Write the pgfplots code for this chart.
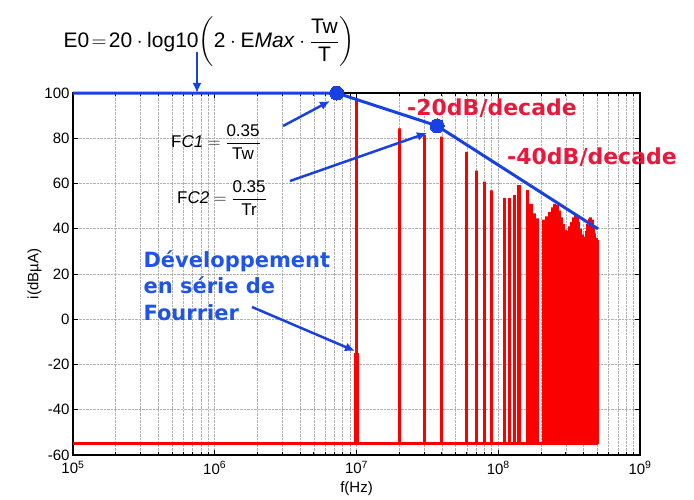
\documentclass[border=0pt]{standalone}
\usepackage{amsmath}
\usepackage{pgfplots}
\pgfplotsset{compat=1.18}
\usepackage{fontspec}
\setmainfont{Liberation Sans}
\newfontfamily\annot{DejaVu Sans}
\usetikzlibrary{arrows.meta}
\definecolor{envblue}{RGB}{25,65,225}
\definecolor{txtblue}{RGB}{30,85,230}
\definecolor{specred}{RGB}{250,0,0}
\definecolor{txtred}{RGB}{232,25,60}
\begin{document}
\begin{tikzpicture}
\useasboundingbox (-73pt,-44pt) rectangle (621pt,455pt);
\begin{axis}[
  at={(0pt,0pt)}, anchor=south west,
  width=567pt, height=362pt, scale only axis,
  xmode=log, xmin=1e5, xmax=1e9, ymin=-60, ymax=100,
  xtick={1e5,1e6,1e7,1e8,1e9},
  xticklabels={10\textsuperscript{5},10\textsuperscript{6},10\textsuperscript{7},10\textsuperscript{8},10\textsuperscript{9}},
  minor xtick={2e5,3e5,4e5,5e5,6e5,7e5,8e5,9e5,2e6,3e6,4e6,5e6,6e6,7e6,8e6,9e6,2e7,3e7,4e7,5e7,6e7,7e7,8e7,9e7,2e8,3e8,4e8,5e8,6e8,7e8,8e8,9e8},
  ytick={-60,-40,-20,0,20,40,60,80,100},
  /pgf/number format/assume math mode=true,
  tick label style={font=\fontsize{15}{18}\selectfont},
  xticklabel style={yshift=-3pt},
  xmajorgrids, xminorgrids, ymajorgrids,
  major grid style={densely dotted, gray!60, line width=0.6pt},
  minor grid style={densely dotted, gray!60, line width=0.6pt},
  tick align=inside, major tick length=5pt, minor tick length=3pt,
  tick style={black, line width=0.8pt},
  axis line style={black, line width=1.3pt},
  xlabel={f(Hz)}, ylabel={i(dB\textmu A)},
  label style={font=\fontsize{15}{18}\selectfont},
  xlabel style={yshift=-1pt},
  ylabel style={yshift=-4pt},
  clip=false,
]
% spectrum: baseline at -55 with harmonic spikes of the 10 MHz fundamental
\addplot[specred, line width=3.2pt, line join=bevel] coordinates {
(1e5,-55)
(1e7,-55) (1e7,97.5) (1e7,-55)
(2e7,-55) (2e7,84.4) (2e7,-55)
(3e7,-55) (3e7,81.4) (3e7,-55)
(4e7,-55) (4e7,80.7) (4e7,-55)
(6e7,-55) (6e7,74) (6e7,-55)
(7e7,-55) (7e7,65.7) (7e7,-55)
(8e7,-55) (8e7,60.8) (8e7,-55)
(9e7,-55) (9e7,57) (9e7,-55)
(11e7,-55) (11e7,53.7) (11e7,-55)
(12e7,-55) (12e7,53.5) (12e7,-55)
(13e7,-55) (13e7,54.9) (13e7,-55)
(14e7,-55) (14e7,59.3) (14e7,-55)
(16e7,-55) (16e7,57.1) (16e7,-55)
(17e7,-55) (17e7,51) (17e7,-55)
(18e7,-55) (18e7,46.8) (18e7,-55)
(19e7,-55) (19e7,44.6) (19e7,-55)
(21e7,-55) (21e7,44) (21e7,-55)
(22e7,-55) (22e7,45.5) (22e7,-55)
(23e7,-55) (23e7,47.5) (23e7,-55)
(24e7,-55) (24e7,49.5) (24e7,-55)
(25e7,-55) (25e7,51) (25e7,-55)
(26e7,-55) (26e7,50.5) (26e7,-55)
(27e7,-55) (27e7,48) (27e7,-55)
(28e7,-55) (28e7,45) (28e7,-55)
(29e7,-55) (29e7,42) (29e7,-55)
(30e7,-55) (30e7,39.5) (30e7,-55)
(31e7,-55) (31e7,39) (31e7,-55)
(32e7,-55) (32e7,41) (32e7,-55)
(33e7,-55) (33e7,43) (33e7,-55)
(34e7,-55) (34e7,45) (34e7,-55)
(35e7,-55) (35e7,46) (35e7,-55)
(36e7,-55) (36e7,45) (36e7,-55)
(37e7,-55) (37e7,43) (37e7,-55)
(38e7,-55) (38e7,40) (38e7,-55)
(39e7,-55) (39e7,37.5) (39e7,-55)
(40e7,-55) (40e7,36) (40e7,-55)
(41e7,-55) (41e7,36.5) (41e7,-55)
(42e7,-55) (42e7,39) (42e7,-55)
(43e7,-55) (43e7,42) (43e7,-55)
(44e7,-55) (44e7,44.5) (44e7,-55)
(45e7,-55) (45e7,45) (45e7,-55)
(46e7,-55) (46e7,44) (46e7,-55)
(47e7,-55) (47e7,41) (47e7,-55)
(48e7,-55) (48e7,38) (48e7,-55)
(49e7,-55) (49e7,36) (49e7,-55)
(50e7,-55) (50e7,35) (50e7,-55)
};
\addplot[specred, line width=4.5pt] coordinates {(1e7,-55) (1e7,-15)};
% envelope
\addplot[envblue, line width=3pt, mark=*, mark size=7pt, mark indices={2,3},
  mark options={fill=envblue, draw=envblue, line width=0pt}]
  coordinates {(1e5,100) (7.25e6,100) (3.7e7,85.5) (5.06e8,39.9)};
\end{axis}
% annotations
\node at (136pt,413pt) {\fontsize{21}{25}\selectfont $\text{E0}\!=\!\text{20}\cdot\text{log10}\biggl(\text{2}\cdot\text{E\textit{Max}}\cdot\dfrac{\text{Tw}}{\text{T}}\biggr)$};
\draw[envblue, line width=2.5pt, -{Latex[length=10pt,width=9pt]}] (124pt,403pt) -- (124pt,362pt);
\node at (143pt,313pt) {\fontsize{17}{20}\selectfont $\text{F\textit{C1}}=\dfrac{\text{0.35}}{\text{Tw}}$};
\node at (149pt,257pt) {\fontsize{17}{20}\selectfont $\text{F\textit{C2}}=\dfrac{\text{0.35}}{\text{Tr}}$};
\draw[envblue, line width=2.5pt, -{Latex[length=10pt,width=9pt]}] (210pt,329pt) -- (257pt,354pt);
\draw[envblue, line width=2.5pt, -{Latex[length=10pt,width=9pt]}] (217pt,274pt) -- (354pt,322pt);
\begin{scope}[every node/.style={anchor=base west, text=txtblue, font=\annot\bfseries\fontsize{21}{25}\selectfont}]
\node at (67pt,188pt) {Développement};
\node at (67pt,162pt) {en série de};
\node at (67pt,135pt) {Fourrier};
\end{scope}
\draw[envblue, line width=2.5pt, -{Latex[length=10pt,width=9pt]}] (179pt,148pt) -- (282pt,104pt);
\node[text=txtred, font=\annot\bfseries\fontsize{22}{26}\selectfont] at (419pt,347pt) {-20dB/decade};
\node[text=txtred, font=\annot\bfseries\fontsize{22}{26}\selectfont] at (519pt,298pt) {-40dB/decade};
\end{tikzpicture}
\end{document}
